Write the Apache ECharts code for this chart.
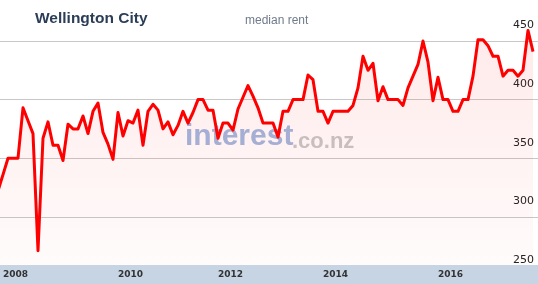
<!DOCTYPE html>
<html>
<head>
<meta charset="utf-8">
<script src="https://cdn.jsdelivr.net/npm/echarts@6/dist/echarts.min.js"></script>
<style>
html,body{margin:0;padding:0;background:#fff;}
#c{width:538px;height:284px;}
</style>
</head>
<body>
<div id="c"></div>
<script>
// median rent readings (one per period, left to right)
const rentValues = [
  322,336,350,350,350,393,382,371,271,367,
  381,361,361,348,379,375,375,386,371,390,
  397,372,362,349,389,369,382,380,391,361,
  390,396,391,375,381,370,378,390,380,389,
  400,400,391,391,367,380,380,374,392,402,
  412,403,393,380,380,380,368,390,390,400,
  400,400,421,417,390,390,380,390,390,390,
  390,395,410,437,425,431,399,411,400,400,
  400,395,410,420,430,450,432,399,419,400,
  400,390,390,400,400,420,451,451,446,437,
  437,420,425,425,420,425,459,441
];
// year tick labels and the period index where each appears
const yearLabels = ['2008','2010','2012','2014','2016'];
const yearLabelIdx = [1, 24, 44, 65, 88];
// y-axis ticks
const yTicks = [250, 300, 350, 400, 450];

const chart = echarts.init(document.getElementById('c'), null, {renderer:'canvas'});
chart.setOption({
  animation: false,
  backgroundColor: '#ffffff',
  title: [
    {text:'Wellington City', left:35, top:11, padding:0,
     textStyle:{fontFamily:'Liberation Sans', fontWeight:'bold', fontSize:15.5, color:'#2b3d57'}},
    {text:'median rent', left:245, top:15, padding:0,
     textStyle:{fontFamily:'Liberation Sans', fontWeight:'normal', fontSize:12, color:'#6f7b8c'}}
  ],
  grid: {left:0, right:0, top:-17.6, bottom:8.6, outerBoundsMode:'none'},
  xAxis: {
    type:'value', min:0.4, max:108, z:10,
    axisLine:{show:false}, axisTick:{show:false}, splitLine:{show:false},
    axisLabel:{
      customValues: yearLabelIdx,
      formatter: function(v){ const k = yearLabelIdx.indexOf(v); return k >= 0 ? yearLabels[k] : ''; },
      inside:true, margin:1, verticalAlign:'middle', align:'left',
      color:'#333333', fontFamily:'DejaVu Sans', fontWeight:'bold', fontSize:9
    }
  },
  yAxis: {
    type:'value', position:'right', min:250, max:500, interval:50,
    axisLine:{show:false}, axisTick:{show:false},
    splitLine:{lineStyle:{color:'#c8c8c8', width:1}},
    axisLabel:{
      inside:true, margin:4, verticalAlign:'bottom', padding:[0,0,10,0],
      color:'#222222', fontFamily:'DejaVu Sans', fontSize:11,
      formatter: function(v){ return yTicks.indexOf(v) >= 0 ? String(v) : ''; }
    }
  },
  graphic: [
    {type:'text', z:1, left:185, top:122, silent:true,
     style:{text:'interest', fontFamily:'Liberation Sans', fontWeight:'bold', fontSize:30, fill:'rgba(135,165,215,0.8)'}},
    {type:'text', z:1, left:292, top:131, silent:true,
     style:{text:'.co.nz', fontFamily:'Liberation Sans', fontWeight:'bold', fontSize:22, fill:'rgba(175,175,175,0.7)'}},
    {type:'rect', z:3, shape:{x:0, y:265, width:538, height:19}, style:{fill:'#c6d4e4'}, silent:true}
  ],
  series: [{
    type:'line',
    data: rentValues.map(function(v,i){ return [i, v]; }),
    symbol:'none', showSymbol:false, clip:true, z:2,
    lineStyle:{color:'#ff0000', width:3, join:'round'},
    areaStyle:{
      color: new echarts.graphic.LinearGradient(0,0,0,1,[
        {offset:0, color:'rgba(255,40,40,0.14)'},
        {offset:1, color:'rgba(255,40,40,0.02)'}
      ])
    }
  }]
});
</script>
</body>
</html>
